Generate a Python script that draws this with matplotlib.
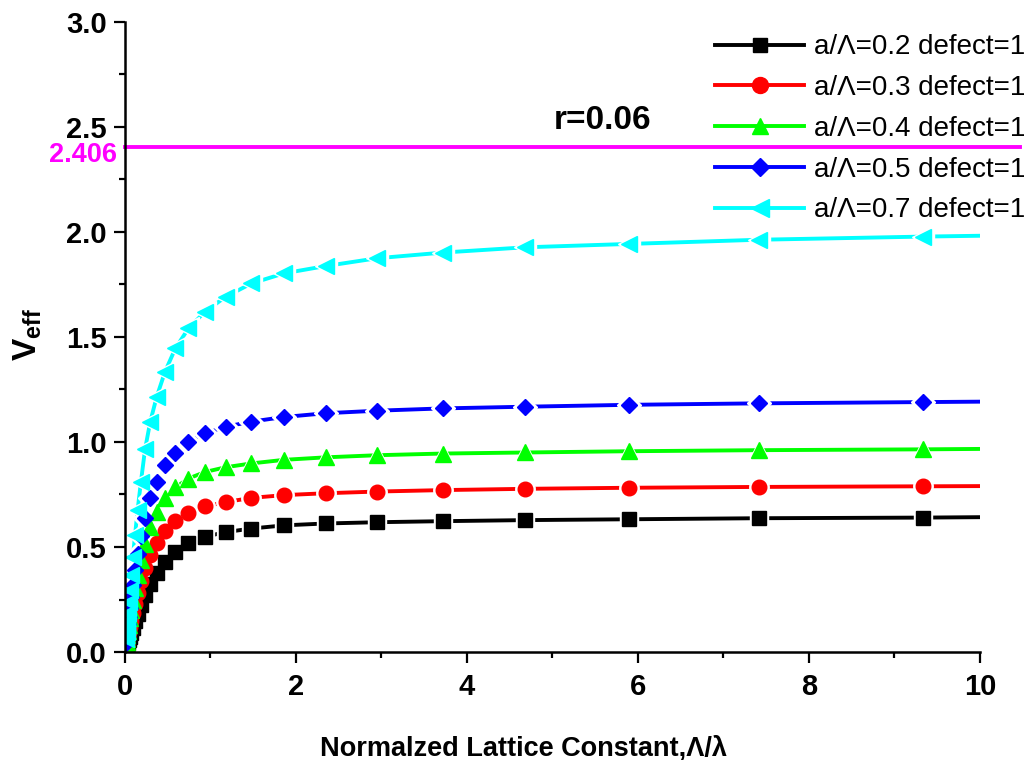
import matplotlib
matplotlib.use("Agg")
import matplotlib.pyplot as plt
from matplotlib.lines import Line2D

plt.rcParams['font.family'] = ['Liberation Sans', 'DejaVu Sans']
plt.rcParams['mathtext.fontset'] = 'custom'
plt.rcParams['mathtext.rm'] = 'Liberation Sans'
plt.rcParams['mathtext.bf'] = 'Liberation Sans:bold'

# Normalized lattice constant (Λ/λ); the last point closes the curves at 10
lattice = [0.0118, 0.0148, 0.0187, 0.0235, 0.0296, 0.0372, 0.0469, 0.0590,
           0.0743, 0.0935, 0.118, 0.148, 0.187, 0.235, 0.296, 0.372, 0.469,
           0.590, 0.743, 0.935, 1.18, 1.48, 1.86, 2.35, 2.95, 3.72, 4.68,
           5.89, 7.41, 9.33, 10.0]

v_02 = [0.012, 0.016, 0.020, 0.026, 0.033, 0.043, 0.055, 0.071, 0.091, 0.116,
        0.146, 0.182, 0.224, 0.272, 0.325, 0.376, 0.430, 0.478, 0.518, 0.549,
        0.571, 0.588, 0.603, 0.612, 0.618, 0.623, 0.628, 0.632, 0.637, 0.640,
        0.642]
v_03 = [0.022, 0.028, 0.035, 0.045, 0.057, 0.073, 0.093, 0.118, 0.149, 0.186,
        0.230, 0.280, 0.336, 0.398, 0.462, 0.520, 0.578, 0.625, 0.663, 0.693,
        0.714, 0.734, 0.747, 0.756, 0.764, 0.771, 0.777, 0.782, 0.786, 0.789,
        0.790]
v_04 = [0.031, 0.039, 0.049, 0.063, 0.080, 0.102, 0.129, 0.162, 0.202, 0.250,
        0.305, 0.368, 0.438, 0.515, 0.594, 0.668, 0.731, 0.784, 0.826, 0.857,
        0.880, 0.898, 0.915, 0.927, 0.937, 0.945, 0.950, 0.956, 0.961, 0.965,
        0.967]
v_05 = [0.041, 0.052, 0.066, 0.084, 0.106, 0.134, 0.168, 0.210, 0.260, 0.320,
        0.390, 0.465, 0.550, 0.636, 0.731, 0.811, 0.890, 0.946, 1.000, 1.041,
        1.073, 1.097, 1.119, 1.137, 1.149, 1.160, 1.168, 1.177, 1.184, 1.190,
        1.192]
v_07 = [0.060, 0.075, 0.095, 0.120, 0.150, 0.188, 0.236, 0.295, 0.367, 0.454,
        0.557, 0.676, 0.811, 0.965, 1.097, 1.216, 1.335, 1.446, 1.541, 1.620,
        1.692, 1.755, 1.803, 1.838, 1.875, 1.902, 1.927, 1.943, 1.963, 1.978,
        1.982]

labels = ['a/Λ=0.2 defect=1', 'a/Λ=0.3 defect=1', 'a/Λ=0.4 defect=1',
          'a/Λ=0.5 defect=1', 'a/Λ=0.7 defect=1']
series = [v_02, v_03, v_04, v_05, v_07]
colors = ['#000000', '#FF0000', '#00FF00', '#0000FF', '#00FFFF']
markers = ['s', 'o', '^', 'D', '<']
msizes = [9.5, 10.5, 11, 8.5, 12]

cutoff = 2.406

fig = plt.figure(figsize=(10.31, 7.60), dpi=100)
ax = fig.add_axes([0.1212, 0.1421, 0.8293, 0.8290])

handles = []
for i, (vals, c, m, ms, lab) in enumerate(zip(series, colors, markers, msizes, labels)):
    ax.plot(lattice, vals, color=c, lw=2.8, solid_capstyle='round', zorder=2)
    # white halo opens a small gap in the lines around every symbol
    ax.plot(lattice[:-1], vals[:-1], ls='none', marker=m, ms=ms + 3.5,
            color='white', mec='white', zorder=2.5)
    ax.plot(lattice[:-1], vals[:-1], ls='none', marker=m, ms=ms,
            color=c, mec=c, zorder=3 + i)
    handles.append(Line2D([], [], color=c, lw=2.8, marker=m, ms=ms + 1, mec=c,
                          label=lab))

ax.plot([0, 10.47], [cutoff, cutoff], color='#FF00FF', lw=2.8, zorder=2,
        clip_on=False)
ax.text(-0.09, cutoff - 0.04, '2.406', color='#FF00FF', fontsize=19.5,
        fontweight='bold', ha='right', va='center')
ax.text(5.59, 2.533, 'r=0.06', fontsize=24, fontweight='bold', ha='center',
        va='center')

ax.set_xlim(0, 10)
ax.set_ylim(0, 3.0)
ax.set_xticks([0, 2, 4, 6, 8, 10])
ax.set_xticks([1, 3, 5, 7, 9], minor=True)
ax.set_yticks([0.0, 0.5, 1.0, 1.5, 2.0, 2.5, 3.0])
ax.set_yticklabels(['0.0', '0.5', '1.0', '1.5', '2.0', '2.5', '3.0'])
ax.set_yticks([0.25, 0.75, 1.25, 1.75, 2.25, 2.75], minor=True)

for s in ['top', 'right']:
    ax.spines[s].set_visible(False)
for s in ['left', 'bottom']:
    ax.spines[s].set_linewidth(1.8)
    ax.spines[s].set_zorder(10)

ax.tick_params(which='major', direction='out', length=8, width=1.6,
               labelsize=21, pad=5)
ax.tick_params(axis='x', which='major', pad=7)
ax.tick_params(which='minor', direction='out', length=4, width=1.6)
for lab in ax.get_xticklabels() + ax.get_yticklabels():
    lab.set_fontweight('bold')

fig.text(0.5077, 0.0145, 'Normalzed Lattice Constant,Λ/λ', fontsize=19.5,
         fontweight='bold', ha='center', va='center')
fig.text(0.027, 0.56, r'$\mathbf{V}_{\mathbf{eff}}$', fontsize=24,
         rotation=90, ha='center', va='center')

leg = fig.legend(handles=handles, loc='upper right',
                 bbox_to_anchor=(1.0, 0.962), frameon=False, fontsize=20,
                 handlelength=3.2, handletextpad=0.36, labelspacing=0.53,
                 borderaxespad=0.0, borderpad=0.2)

fig.savefig('out.png', dpi=100)
